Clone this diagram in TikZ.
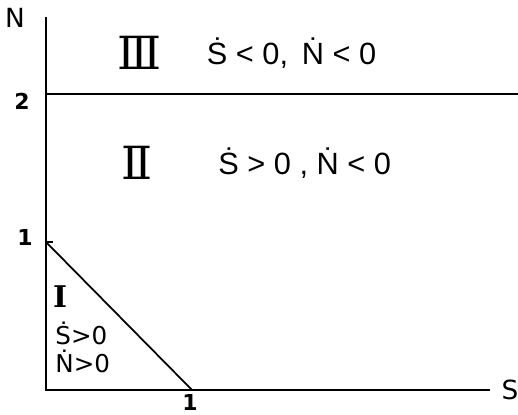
\documentclass[tikz,border=0pt]{standalone}
\usepackage{fontspec}
\setsansfont{DejaVu Sans}
\newfontfamily\romfont{DejaVu Serif}
\newfontfamily\narrowfont{Liberation Sans}

\tikzset{
  axis/.style={line width=1pt},
  lbl/.style={font=\sffamily, inner sep=0pt},
  num/.style={lbl, font=\sffamily\fontsize{12.5}{12.5}\selectfont\bfseries},
  region/.style={font=\romfont, inner sep=0pt, anchor=base},
  cond/.style={inner sep=0pt, anchor=base west, font=\narrowfont\fontsize{17.5}{17.5}\selectfont},
}

\begin{document}
\begin{tikzpicture}[x=2.92cm, y=2.96cm]
    \useasboundingbox (-0.315, -0.169) rectangle (3.233, 2.635);

    \coordinate (O) at (0, 0);
    \coordinate (Ntop) at (0, 2.52);
    \coordinate (Send) at (3.04, 0);
    \coordinate (A) at (0, 1);
    \coordinate (B) at (1, 0);
    \coordinate (C) at (0, 2);
    \coordinate (D) at (3.233, 2);

    \draw[axis] (Ntop) -- (O) -- (Send);
    \draw[axis] (C) -- (D);
    \draw[axis] (A) -- (B);
    \draw[axis] (A) -- ++(0.045, 0);

    \node[lbl, font=\sffamily\fontsize{15}{15}\selectfont] (nlab) at (-0.212, 2.514) {N};
    \node[lbl, font=\sffamily\fontsize{15}{15}\selectfont] (slab) at (3.178, 0) {S};
    \node[num] (two) at (-0.164, 1.95) {2};
    \node[num] (oneN) at (-0.144, 1.03) {1};
    \node[num] (oneS) at (0.986, -0.082) {1};

    \node[region, font=\romfont\fontsize{26}{26}\selectfont] (r3) at (0.644, 2.162) {Ⅲ};
    \node[region, font=\romfont\fontsize{26}{26}\selectfont] (r2) at (0.623, 1.419) {Ⅱ};
    \node[region, font=\romfont\bfseries\fontsize{17}{17}\selectfont] (r1) at (0.096, 0.554) {I};

    \node[cond] (t3) at (1.10, 2.196) {Ṡ < 0,\, Ṅ < 0};
    \node[cond] (t2) at (1.178, 1.453) {Ṡ > 0 , Ṅ < 0};
    \node[lbl, anchor=base west, font=\sffamily\fontsize{14}{14}\selectfont] (t1a) at (0.062, 0.304) {Ṡ>0};
    \node[lbl, anchor=base west, font=\sffamily\fontsize{14}{14}\selectfont] (t1b) at (0.062, 0.115) {Ṅ>0};
  \end{tikzpicture}
\end{document}
